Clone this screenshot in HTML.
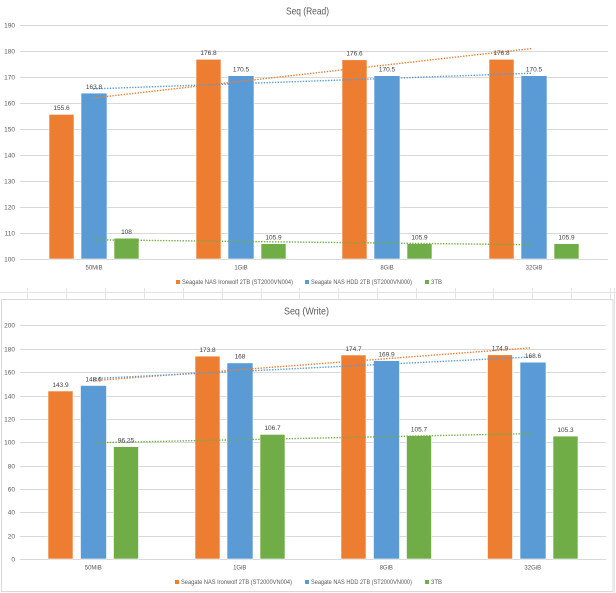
<!DOCTYPE html>
<html><head><meta charset="utf-8"><style>
html,body{margin:0;padding:0;background:#fff;}
svg{display:block;}
text{font-family:"Liberation Sans",sans-serif;}
</style></head><body>
<svg width="616" height="593" viewBox="0 0 616 593" xmlns="http://www.w3.org/2000/svg">
<rect width="616" height="593" fill="#fff"/>
<!-- spreadsheet grid between charts -->
<g stroke="#e3e3e3" stroke-width="1">
<line x1="0" y1="292.5" x2="616" y2="292.5"/>
<line x1="27.5" y1="288" x2="27.5" y2="299"/><line x1="66.5" y1="288" x2="66.5" y2="299"/>
<line x1="105.5" y1="288" x2="105.5" y2="299"/><line x1="144.5" y1="288" x2="144.5" y2="299"/>
<line x1="183.5" y1="288" x2="183.5" y2="299"/><line x1="222.5" y1="288" x2="222.5" y2="299"/>
<line x1="261.5" y1="288" x2="261.5" y2="299"/><line x1="299.5" y1="288" x2="299.5" y2="299"/>
<line x1="338.5" y1="288" x2="338.5" y2="299"/><line x1="377.5" y1="288" x2="377.5" y2="299"/>
<line x1="416.5" y1="288" x2="416.5" y2="299"/><line x1="455.5" y1="288" x2="455.5" y2="299"/>
<line x1="493.5" y1="288" x2="493.5" y2="299"/><line x1="532.5" y1="288" x2="532.5" y2="299"/>
<line x1="571.5" y1="288" x2="571.5" y2="299"/><line x1="610.5" y1="288" x2="610.5" y2="299"/>
<line x1="614.5" y1="288" x2="614.5" y2="593"/>
</g>

<!-- ===== TOP CHART ===== -->
<text x="307.5" y="14.5" font-size="10.5" fill="#595959" text-anchor="middle" textLength="43" lengthAdjust="spacingAndGlyphs">Seq (Read)</text>
<g stroke="#d9d9d9" stroke-width="1">
<line x1="20" y1="259.5" x2="608" y2="259.5"/>
<line x1="20" y1="233.5" x2="608" y2="233.5"/>
<line x1="20" y1="207.5" x2="608" y2="207.5"/>
<line x1="20" y1="181.5" x2="608" y2="181.5"/>
<line x1="20" y1="155.5" x2="608" y2="155.5"/>
<line x1="20" y1="129.5" x2="608" y2="129.5"/>
<line x1="20" y1="103.5" x2="608" y2="103.5"/>
<line x1="20" y1="77.5" x2="608" y2="77.5"/>
<line x1="20" y1="51.5" x2="608" y2="51.5"/>
<line x1="20" y1="25.5" x2="608" y2="25.5"/>
</g>
<g font-size="6.5" fill="#595959" text-anchor="end">
<text x="15" y="261.5">100</text><text x="15" y="235.5">110</text><text x="15" y="209.5">120</text>
<text x="15" y="183.5">130</text><text x="15" y="157.5">140</text><text x="15" y="131.5">150</text>
<text x="15" y="105.5">160</text><text x="15" y="79.5">170</text><text x="15" y="53.5">180</text>
<text x="15" y="27.5">190</text>
</g>
<g stroke="#fff" stroke-width="0.6">
<!-- 50MiB c=94 -->
<rect x="49" y="114.4" width="25" height="144.6" fill="#ED7D31"/>
<rect x="81" y="93.1" width="26" height="165.9" fill="#5B9BD5"/>
<rect x="114" y="238.2" width="25" height="20.8" fill="#70AD47"/>
<!-- 1GiB c=241 -->
<rect x="196" y="59.3" width="25" height="199.7" fill="#ED7D31"/>
<rect x="228" y="75.7" width="26" height="183.3" fill="#5B9BD5"/>
<rect x="261" y="243.7" width="25" height="15.3" fill="#70AD47"/>
<!-- 8GiB c=387 -->
<rect x="342" y="59.8" width="25" height="199.2" fill="#ED7D31"/>
<rect x="374" y="75.7" width="26" height="183.3" fill="#5B9BD5"/>
<rect x="407" y="243.7" width="25" height="15.3" fill="#70AD47"/>
<!-- 32GiB c=534 -->
<rect x="489" y="59.3" width="25" height="199.7" fill="#ED7D31"/>
<rect x="521" y="75.7" width="26" height="183.3" fill="#5B9BD5"/>
<rect x="554" y="243.7" width="25" height="15.3" fill="#70AD47"/>
</g>
<!-- trendlines -->
<g stroke-width="1.4" stroke-dasharray="1.4 1.4" fill="none">
<line x1="93" y1="98" x2="532" y2="48.5" stroke="#ED7D31"/>
<line x1="93" y1="88.9" x2="532" y2="73.2" stroke="#5B9BD5"/>
<line x1="93" y1="239.8" x2="532" y2="244.7" stroke="#70AD47"/>
</g>
<g font-size="6.5" fill="#404040" text-anchor="middle">
<text x="61.5" y="110">155.6</text><text x="94" y="89">163.8</text><text x="126.5" y="234">108</text>
<text x="208.5" y="55">176.8</text><text x="241" y="71.5">170.5</text><text x="273.5" y="239.5">105.9</text>
<text x="354.5" y="55.5">176.6</text><text x="387" y="71.5">170.5</text><text x="419.5" y="239.5">105.9</text>
<text x="501.5" y="55">176.8</text><text x="534" y="71.5">170.5</text><text x="566.5" y="239.5">105.9</text>
</g>
<g font-size="6" fill="#595959" text-anchor="middle">
<text x="94" y="269.5">50MiB</text><text x="241" y="269.5">1GiB</text>
<text x="387" y="269.5">8GiB</text><text x="534" y="269.5">32GiB</text>
</g>
<g font-size="6" fill="#595959">
<rect x="176" y="280" width="4" height="4" fill="#ED7D31"/>
<text x="182" y="284.2" textLength="111" lengthAdjust="spacingAndGlyphs">Seagate NAS Ironwolf 2TB (ST2000VN004)</text>
<rect x="305" y="280" width="4" height="4" fill="#5B9BD5"/>
<text x="311" y="284.2" textLength="101" lengthAdjust="spacingAndGlyphs">Seagate NAS HDD 2TB (ST2000VN000)</text>
<rect x="425" y="280" width="4" height="4" fill="#70AD47"/>
<text x="431" y="284.2">3TB</text>
</g>

<!-- ===== BOTTOM CHART ===== -->
<rect x="1.5" y="299.5" width="611.5" height="292" fill="#fff" stroke="#d9d9d9" stroke-width="1"/>
<text x="306.5" y="314.5" font-size="10.5" fill="#595959" text-anchor="middle" textLength="45" lengthAdjust="spacingAndGlyphs">Seq (Write)</text>
<g stroke="#d9d9d9" stroke-width="1">
<line x1="20" y1="559.5" x2="606" y2="559.5"/>
<line x1="20" y1="536.5" x2="606" y2="536.5"/>
<line x1="20" y1="512.5" x2="606" y2="512.5"/>
<line x1="20" y1="489.5" x2="606" y2="489.5"/>
<line x1="20" y1="466.5" x2="606" y2="466.5"/>
<line x1="20" y1="442.5" x2="606" y2="442.5"/>
<line x1="20" y1="419.5" x2="606" y2="419.5"/>
<line x1="20" y1="396.5" x2="606" y2="396.5"/>
<line x1="20" y1="372.5" x2="606" y2="372.5"/>
<line x1="20" y1="349.5" x2="606" y2="349.5"/>
<line x1="20" y1="325.5" x2="606" y2="325.5"/>
</g>
<g font-size="6.5" fill="#595959" text-anchor="end">
<text x="15" y="561.5">0</text><text x="15" y="538.5">20</text><text x="15" y="514.5">40</text>
<text x="15" y="491.5">60</text><text x="15" y="468.5">80</text><text x="15" y="444.5">100</text>
<text x="15" y="421.5">120</text><text x="15" y="398.5">140</text><text x="15" y="374.5">160</text>
<text x="15" y="351.5">180</text><text x="15" y="327.5">200</text>
</g>
<g stroke="#fff" stroke-width="0.6">
<!-- 50MiB c=93.25 -->
<rect x="48" y="391" width="25" height="168" fill="#ED7D31"/>
<rect x="80.5" y="385.5" width="26" height="173.5" fill="#5B9BD5"/>
<rect x="113.5" y="446.6" width="25" height="112.4" fill="#70AD47"/>
<!-- 1GiB c=239.75 -->
<rect x="195" y="356.1" width="25" height="202.9" fill="#ED7D31"/>
<rect x="227" y="362.9" width="26" height="196.1" fill="#5B9BD5"/>
<rect x="260" y="434.4" width="25" height="124.6" fill="#70AD47"/>
<!-- 8GiB c=386.25 -->
<rect x="341" y="355" width="25" height="204" fill="#ED7D31"/>
<rect x="373.5" y="360.6" width="26" height="198.4" fill="#5B9BD5"/>
<rect x="406.5" y="435.6" width="25" height="123.4" fill="#70AD47"/>
<!-- 32GiB c=532.75 -->
<rect x="487.5" y="354.8" width="25" height="204.2" fill="#ED7D31"/>
<rect x="520" y="362.2" width="26" height="196.8" fill="#5B9BD5"/>
<rect x="553" y="436.1" width="25" height="122.9" fill="#70AD47"/>
</g>
<g stroke-width="1.4" stroke-dasharray="1.4 1.4" fill="none">
<line x1="93" y1="380.7" x2="531" y2="347.8" stroke="#ED7D31"/>
<line x1="93" y1="378.6" x2="531" y2="357" stroke="#5B9BD5"/>
<line x1="93" y1="442.8" x2="531" y2="433.6" stroke="#70AD47"/>
</g>
<g font-size="6.5" fill="#404040" text-anchor="middle">
<text x="60.5" y="387">143.9</text><text x="93.5" y="381.5">148.6</text><text x="126" y="442.5">96.25</text>
<text x="207.5" y="352">173.8</text><text x="240" y="358.5">168</text><text x="272.5" y="430">106.7</text>
<text x="353.5" y="351">174.7</text><text x="386.5" y="356.5">169.9</text><text x="419" y="431.5">105.7</text>
<text x="500" y="350.5">174.9</text><text x="533" y="358">168.6</text><text x="565.5" y="432">105.3</text>
</g>
<g font-size="6" fill="#595959" text-anchor="middle">
<text x="93.25" y="569.5">50MiB</text><text x="239.75" y="569.5">1GiB</text>
<text x="386.25" y="569.5">8GiB</text><text x="532.75" y="569.5">32GiB</text>
</g>
<g font-size="6" fill="#595959">
<rect x="175" y="580" width="4" height="4" fill="#ED7D31"/>
<text x="181" y="584.2" textLength="111" lengthAdjust="spacingAndGlyphs">Seagate NAS Ironwolf 2TB (ST2000VN004)</text>
<rect x="305" y="580" width="4" height="4" fill="#5B9BD5"/>
<text x="311" y="584.2" textLength="101" lengthAdjust="spacingAndGlyphs">Seagate NAS HDD 2TB (ST2000VN000)</text>
<rect x="425" y="580" width="4" height="4" fill="#70AD47"/>
<text x="431" y="584.2">3TB</text>
</g>
</svg>
</body></html>
